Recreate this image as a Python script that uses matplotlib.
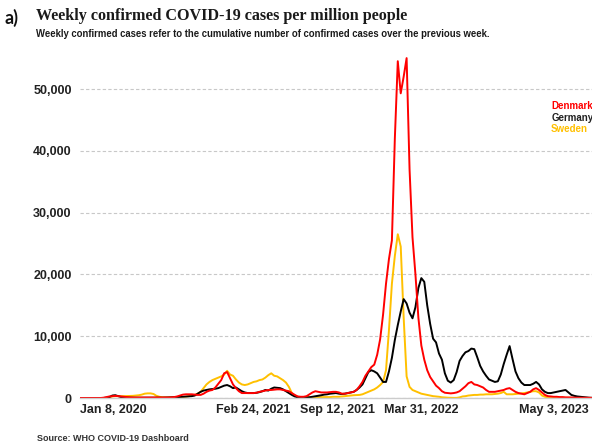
import matplotlib
matplotlib.use("Agg")
import matplotlib.pyplot as plt
import pandas as pd

# weekly confirmed cases per million, one value per week from Jan 8, 2020
weeks = pd.date_range("2020-01-08", periods=175, freq="7D")

denmark = [
    0, 0, 0, 0, 0, 0, 0, 0, 50, 150,
    250, 300, 350, 300, 250, 200, 150, 100, 80, 80,
    80, 80, 80, 80, 80, 80, 80, 80, 80, 80,
    80, 100, 150, 250, 400, 550, 600, 600, 600, 550,
    500, 500, 700, 1000, 1200, 1300, 1700, 2300, 2900, 4000,
    4200, 3200, 2200, 1600, 1100, 800, 800, 800, 800, 800,
    850, 1000, 1100, 1200, 1300, 1300, 1350, 1400, 1400, 1300,
    1200, 1100, 800, 500, 250, 200, 200, 300, 600, 900,
    1100, 1000, 900, 900, 900, 950, 1000, 1000, 900, 700,
    700, 800, 900, 1000, 1300, 1900, 2600, 3600, 4300, 5000,
    5400, 7000, 9500, 13500, 18500, 22500, 25500, 42000, 54500, 49300,
    52000, 55000, 37000, 26000, 20000, 13000, 8500, 6200, 4500, 3400,
    2700, 2000, 1600, 1100, 850, 800, 750, 800, 900, 1100,
    1500, 1900, 2400, 2600, 2200, 2100, 1900, 1700, 1300, 1000,
    1000, 1000, 1100, 1200, 1300, 1500, 1600, 1300, 1000, 800,
    700, 600, 800, 1000, 1400, 1600, 1300, 900, 500, 300,
    250, 200, 200, 150, 150, 100, 100, 80, 60, 50,
    50, 40, 30, 20, 20,
]

germany = [
    0, 0, 0, 0, 0, 0, 0, 0, 0, 50,
    150, 400, 450, 300, 150, 100, 60, 50, 40, 40,
    40, 40, 40, 40, 40, 40, 40, 50, 50, 60,
    80, 100, 120, 150, 170, 200, 220, 250, 300, 400,
    700, 1000, 1200, 1300, 1400, 1450, 1500, 1600, 1800, 2000,
    2100, 1900, 1600, 1700, 1400, 1100, 900, 800, 800, 800,
    850, 950, 1100, 1300, 1200, 1500, 1700, 1650, 1600, 1400,
    1100, 800, 500, 250, 120, 80, 60, 80, 120, 200,
    280, 350, 450, 550, 600, 700, 750, 800, 700, 650,
    700, 800, 900, 1000, 1300, 1700, 2200, 3200, 4200, 4500,
    4300, 4000, 3300, 2600, 2600, 4300, 6500, 9400, 11800, 14000,
    16000, 15300, 13800, 12900, 14700, 17800, 19400, 18800, 15000, 12000,
    9600, 9000, 7200, 6200, 4000, 2800, 2500, 2900, 4200, 6000,
    6800, 7400, 7600, 8000, 7900, 6600, 5200, 4300, 3600, 3000,
    2800, 2600, 2700, 3800, 5500, 7000, 8400, 6300, 4300, 3200,
    2500, 2100, 2100, 2100, 2300, 2600, 2200, 1400, 1000, 800,
    800, 900, 1000, 1100, 1200, 1300, 900, 500, 350, 250,
    200, 150, 100, 50, 30,
]

sweden = [
    0, 0, 0, 0, 0, 0, 0, 0, 0, 0,
    100, 250, 300, 300, 300, 300, 320, 350, 350, 400,
    450, 550, 700, 750, 750, 650, 350, 200, 120, 100,
    100, 100, 100, 100, 100, 150, 200, 300, 400, 500,
    700, 1000, 1600, 2200, 2600, 2900, 3100, 3300, 3500, 3800,
    4400, 3800, 3600, 3000, 2500, 2200, 2100, 2200, 2400, 2600,
    2700, 2900, 3000, 3300, 3700, 4000, 3600, 3500, 3200, 2900,
    2500, 1800, 800, 400, 200, 150, 150, 150, 150, 150,
    150, 150, 150, 150, 150, 150, 200, 200, 200, 250,
    300, 350, 400, 450, 480, 500, 600, 800, 1000, 1200,
    1400, 1700, 2100, 2600, 4500, 11000, 18500, 23000, 26500, 24500,
    13000, 3500, 1800, 1300, 1100, 900, 700, 600, 500, 400,
    300, 250, 200, 120, 80, 50, 30, 20, 20, 100,
    250, 300, 400, 450, 500, 500, 550, 550, 600, 600,
    600, 650, 700, 800, 1000, 600, 600, 600, 650, 700,
    750, 800, 900, 1000, 1100, 1100, 900, 400, 200, 100,
    80, 60, 50, 50, 40, 40, 30, 30, 20, 20,
    20, 20, 10, 10, 10,
]

tick_dates = ["2020-01-08", "2021-02-24", "2021-09-12", "2022-03-31", "2023-05-03"]
tick_labels = ["Jan 8, 2020", "Feb 24, 2021", "Sep 12, 2021", "Mar 31, 2022", "May 3, 2023"]

RED = "#ff0000"
BLACK = "#000000"
GOLD = "#ffc000"

fig = plt.figure(figsize=(5.92, 4.47), dpi=100)
ax = fig.add_axes([0.1351, 0.1096, 0.8649, 0.7673])

ax.plot(weeks, sweden, color=GOLD, lw=1.4)
ax.plot(weeks, germany, color=BLACK, lw=1.4)
ax.plot(weeks, denmark, color=RED, lw=1.4)

ax.set_ylim(0, 55500)
ax.set_xlim(pd.Timestamp("2020-01-08"), pd.Timestamp("2023-05-10"))

ax.set_yticks([0, 10000, 20000, 30000, 40000, 50000])
ax.set_yticklabels(["{:,}".format(v) for v in ax.get_yticks().astype(int)],
                   fontweight="bold", fontsize=9, family="Liberation Sans", color="#222222")
ax.yaxis.grid(True, linestyle=(0, (3, 2)), color="#c8c8c8", lw=0.8)
ax.set_axisbelow(True)

ax.set_xticks(pd.to_datetime(tick_dates))
ax.set_xticklabels(tick_labels, fontweight="bold", fontsize=9, family="Liberation Sans", color="#222222")
xl = ax.get_xticklabels()
xl[0].set_ha("left")
xl[-1].set_ha("right")

ax.tick_params(axis="both", length=0)
ax.tick_params(axis="y", pad=6)
ax.tick_params(axis="x", pad=4)
for side in ["top", "right", "left"]:
    ax.spines[side].set_visible(False)
ax.spines["bottom"].set_color("#cccccc")
ax.spines["bottom"].set_linewidth(1.0)

# titles
fig.text(0.008, 0.960, "a)", fontsize=13, family="Lato", fontweight="bold", va="center", color="#111111")
fig.text(0.061, 0.964, "Weekly confirmed COVID-19 cases per million people", fontsize=11.6,
         family="Liberation Serif", fontweight="bold", va="center", color="#1a1a1a")
fig.text(0.061, 0.924, "Weekly confirmed cases refer to the cumulative number of confirmed cases over the previous week.",
         fontsize=6.85, family="Liberation Sans", fontweight="bold", va="center", color="#1a1a1a")
fig.text(0.062, 0.02, "Source: WHO COVID-19 Dashboard", fontsize=6.5, family="Liberation Sans",
         fontweight="bold", va="center", color="#333333")

# legend as labels
for name, col, yy in [("Denmark", RED, 0.763), ("Germany", "#222222", 0.737), ("Sweden", GOLD, 0.712)]:
    fig.text(0.931, yy, name, fontsize=7, family="Liberation Sans", fontweight="bold",
             va="center", color=col)

fig.savefig("out.png", dpi=100)
